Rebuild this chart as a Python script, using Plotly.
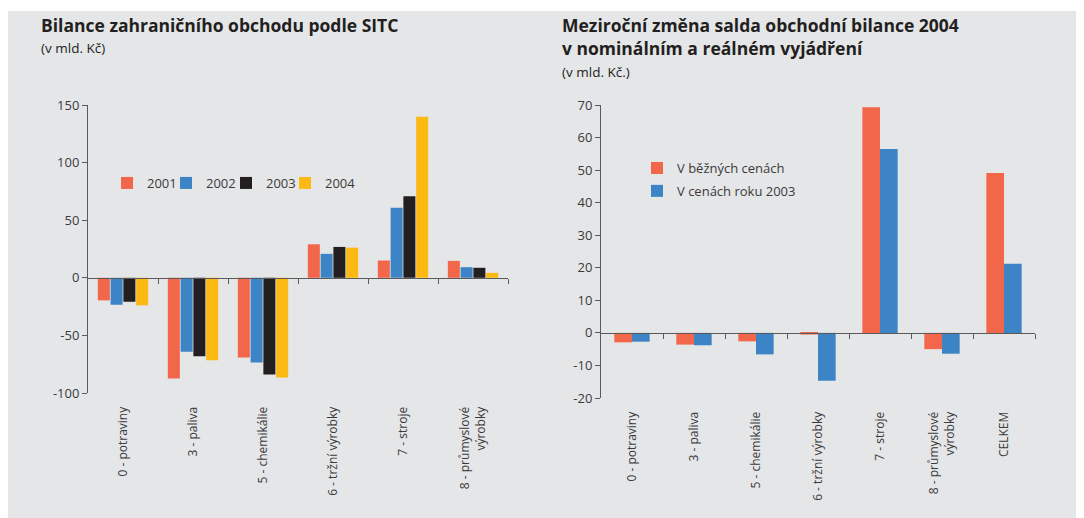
import plotly.graph_objects as go

# page body has an 8px margin; the figure fills the rest of the 1084x518 window
OFF = 8
W, H = 1084 - OFF, 518 - OFF

# ---------------- data ----------------
sitc_categories = ["0 - potraviny", "3 - paliva", "5 - chemikálie", "6 - tržní výrobky",
                   "7 - stroje", "8 - průmyslové<br>výrobky"]
years = ["2001", "2002", "2003", "2004"]
bal_2001 = [-19.6, -87.4, -69.2, 29.1, 15.0, 14.7]
bal_2002 = [-23.4, -64.3, -73.6, 20.8, 60.9, 9.2]
bal_2003 = [-20.8, -68.1, -83.9, 26.8, 70.7, 8.7]
bal_2004 = [-23.9, -71.5, -86.5, 26.2, 139.9, 4.3]

change_categories = ["0 - potraviny", "3 - paliva", "5 - chemikálie", "6 - tržní výrobky",
                     "7 - stroje", "8 - průmyslové<br>výrobky", "CELKEM"]
change_nominal = [-2.9, -3.6, -2.6, -0.5, 69.3, -5.0, 49.1]
change_real = [-2.7, -3.8, -6.6, -14.7, 56.5, -6.4, 21.2]
change_names = ["V běžných cenách", "V cenách roku 2003"]

left_yticks = [-100, -50, 0, 50, 100, 150]
right_yticks = [-20, -10, 0, 10, 20, 30, 40, 50, 60, 70]

# ---------------- style ----------------
RED, BLUE, BLACK, YELLOW = "#F26649", "#3C84C6", "#231F20", "#FDB913"
year_colors = [RED, BLUE, BLACK, YELLOW]
PANEL = "#E5E6E8"
AXIS = "#5A5A5A"
TEXT = "#3A3A3A"
FONT = "Open Sans"


def px_x(x):  # x given in window pixels
    return (x - OFF) / W


def px_y(y):  # y given in window pixels
    return 1 - (y - OFF) / H


L_XDOM = [px_x(88), px_x(508)]
L_YDOM = [px_y(393), px_y(105)]
R_XDOM = [px_x(601), px_x(1035)]
R_YDOM = [px_y(398), px_y(105)]
L_RANGE = [-100, 150]
R_RANGE = [-20, 70]
year_legend_x = [107, 166, 226, 285]   # window px of each year's legend entry


def zero_pos(dom, rng):
    return dom[0] + (0 - rng[0]) / (rng[1] - rng[0]) * (dom[1] - dom[0])


fig = go.Figure()

year_legends = ["legend", "legend3", "legend4", "legend5"]
for name, vals, col, lg in zip(years, [bal_2001, bal_2002, bal_2003, bal_2004], year_colors, year_legends):
    fig.add_trace(go.Bar(x=sitc_categories, y=vals, name=name, marker_color=col,
                         marker_line_width=0, xaxis="x", yaxis="y", legend=lg))

bw = 0.285
for i, (name, vals, col) in enumerate(zip(change_names, [change_nominal, change_real], [RED, BLUE])):
    fig.add_trace(go.Bar(x=change_categories, y=vals, name=name, marker_color=col,
                         marker_line_width=0, width=bw, offset=-bw + i * bw,
                         xaxis="x2", yaxis="y2", legend="legend2", legendgroup=name))

cat_axis = dict(showline=False, ticks="outside", ticklen=8, tickcolor="rgba(0,0,0,0)",
                tickangle=-90, tickfont=dict(family=FONT, size=12, color=TEXT),
                showgrid=False, zeroline=False, automargin=False, fixedrange=True)
val_axis = dict(showline=True, linecolor=AXIS, linewidth=1, ticks="outside", ticklen=5,
                tickcolor=AXIS, tickfont=dict(family=FONT, size=13, color=TEXT),
                showgrid=False, zeroline=False, automargin=False)
zero_axis = dict(showline=True, linecolor=AXIS, linewidth=1.2, ticks="outside", ticklen=5,
                 tickcolor=AXIS, showticklabels=False, showgrid=False, zeroline=False,
                 anchor="free", type="linear")

legend_font = dict(family=FONT, size=13, color=TEXT)
layout_legends = {}
for lg, lx in zip(year_legends, year_legend_x):
    layout_legends[lg] = dict(orientation="h", x=px_x(lx), y=px_y(183), xanchor="left",
                              yanchor="middle", bgcolor="rgba(0,0,0,0)", font=legend_font)

fig.update_layout(
    width=W, height=H,
    margin=dict(l=0, r=0, t=0, b=0),
    paper_bgcolor="white", plot_bgcolor="rgba(0,0,0,0)",
    barmode="group", bargap=0.27, bargroupgap=0.06,
    xaxis=dict(domain=L_XDOM, anchor="y", **cat_axis),
    yaxis=dict(domain=L_YDOM, anchor="x", range=L_RANGE, tickvals=left_yticks,
               ticktext=[str(v) for v in left_yticks], **val_axis),
    xaxis2=dict(domain=R_XDOM, anchor="y2", **cat_axis),
    yaxis2=dict(domain=R_YDOM, anchor="x2", range=R_RANGE, tickvals=right_yticks,
                ticktext=[str(v) for v in right_yticks], **val_axis),
    xaxis3=dict(overlaying="x", range=[-0.5, len(sitc_categories) - 0.5],
                tickvals=[i + 0.5 for i in range(len(sitc_categories))],
                position=zero_pos(L_YDOM, L_RANGE), **zero_axis),
    xaxis4=dict(overlaying="x2", range=[-0.5, len(change_categories) - 0.5],
                tickvals=[i + 0.5 for i in range(len(change_categories))],
                position=zero_pos(R_YDOM, R_RANGE), **zero_axis),
    legend2=dict(orientation="v", x=px_x(637), y=px_y(153), xanchor="left", yanchor="top",
                 bgcolor="rgba(0,0,0,0)", font=legend_font,
                 traceorder="grouped", tracegroupgap=3),
    showlegend=True,
    **layout_legends,
)

# empty traces so the overlay zero-line axes render
fig.add_trace(go.Scatter(x=[None], y=[None], xaxis="x3", yaxis="y", showlegend=False, hoverinfo="skip"))
fig.add_trace(go.Scatter(x=[None], y=[None], xaxis="x4", yaxis="y2", showlegend=False, hoverinfo="skip"))

fig.add_shape(type="rect", xref="paper", yref="paper", x0=px_x(6), x1=1, y0=0, y1=px_y(11),
              fillcolor=PANEL, line_width=0, layer="below")

TITLE_C = "#231F20"
ann = [
    dict(text="<b>Bilance zahraničního obchodu podle SITC</b>", x=px_x(39), y=px_y(25), size=17.5),
    dict(text="(v mld. Kč)", x=px_x(39), y=px_y(48), size=13.5),
    dict(text="<b>Meziroční změna salda obchodní bilance 2004</b>", x=px_x(560), y=px_y(25), size=17.5),
    dict(text="<b>v nominálním a reálném vyjádření</b>", x=px_x(560), y=px_y(48), size=17.5),
    dict(text="(v mld. Kč.)", x=px_x(560), y=px_y(72), size=13.5),
]
for a in ann:
    fig.add_annotation(text=a["text"], x=a["x"], y=a["y"], xref="paper", yref="paper",
                       xanchor="left", yanchor="middle", showarrow=False,
                       font=dict(family=FONT, size=a["size"], color=TITLE_C))

fig.write_html("out.html")
